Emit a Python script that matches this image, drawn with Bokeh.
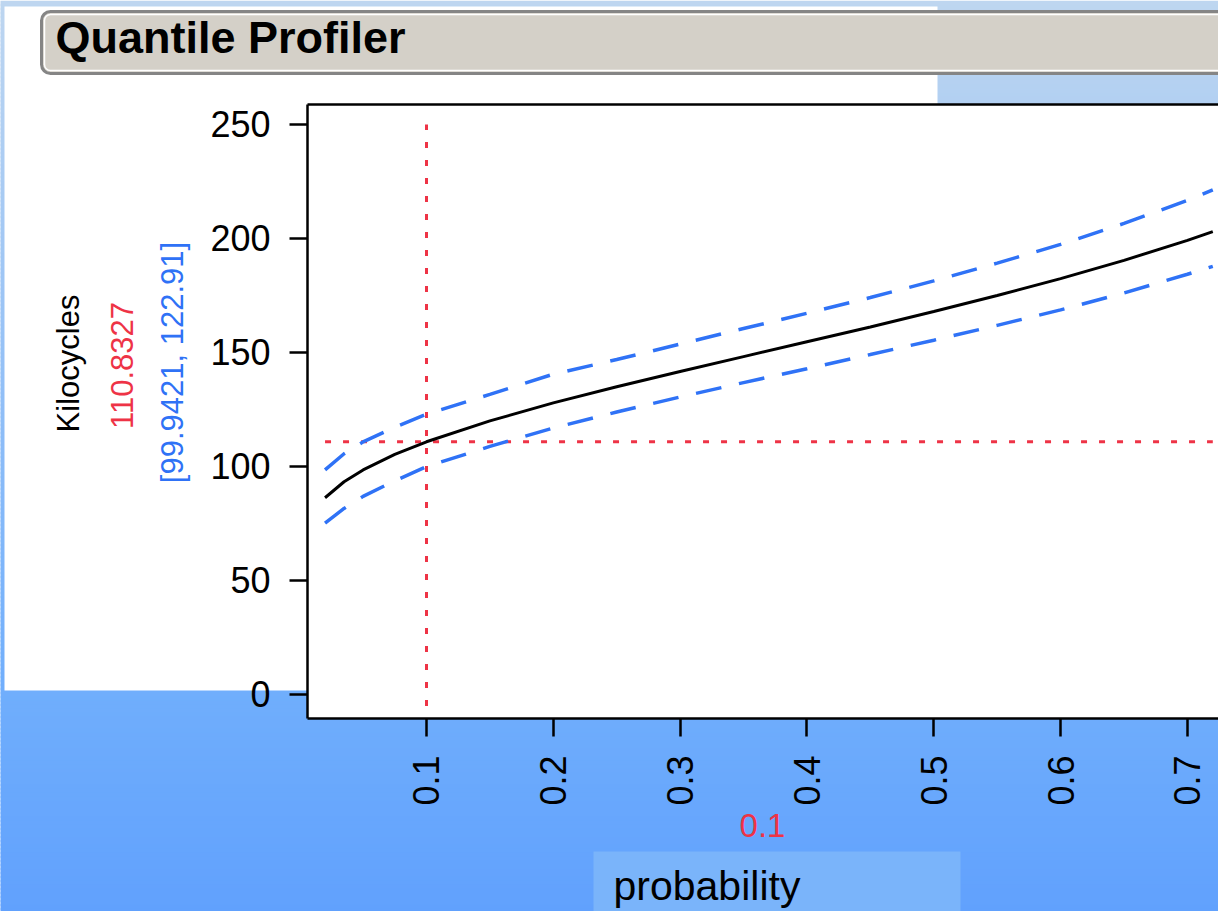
import math

from bokeh.embed import file_html
from bokeh.models import (BoxAnnotation, ColumnDataSource, FixedTicker, Label,
                          LinearAxis, Range1d)
from bokeh.plotting import figure
from bokeh.resources import INLINE

# Quantile profile of Kilocycles against probability, with confidence band
probability = [0.02, 0.035, 0.05, 0.075, 0.1, 0.15, 0.2, 0.25, 0.3, 0.35,
               0.4, 0.45, 0.5, 0.55, 0.6, 0.65, 0.7, 0.72]
kilocycles = [86.3, 93.3, 98.5, 105.3, 110.8327, 120.0, 127.9, 135.0, 141.7,
              148.2, 154.7, 161.2, 168.0, 175.0, 182.4, 190.4, 199.2, 203.0]
upper = [98.5, 105.6, 110.8, 117.2, 122.91, 131.6, 140.5, 146.9, 153.7,
         160.5, 167.2, 174.1, 181.4, 189.2, 197.4, 206.6, 216.7, 221.3]
lower = [75.2, 81.6, 86.9, 93.7, 99.9421, 108.8, 116.9, 123.9, 130.5, 136.8,
         142.9, 149.1, 155.4, 161.9, 168.7, 176.1, 184.3, 187.8]

# current setting of the profiler crosshair
current_p = 0.1
current_q = 110.8327
ci_low, ci_high = 99.9421, 122.91
crosshair_y_span = (-5, 250)

y_ticks = [0, 50, 100, 150, 200, 250]
x_ticks = [0.1, 0.2, 0.3, 0.4, 0.5, 0.6, 0.7]

BLUE = "#2f72f6"
RED = "#ee3346"
FONT = "Liberation Sans"

W, H = 1218, 911
FRAME_L, FRAME_T, FRAME_B = 307, 104, 718

# ---------------------------------------------------------------------------
# backdrop: page background, report panel, outline title bar and text labels
# (pixel coordinates, y growing downwards)
back = figure(width=W, height=H, x_range=Range1d(0, W), y_range=Range1d(H, 0),
              output_backend="svg", toolbar_location=None,
              x_axis_location=None, y_axis_location=None,
              min_border=0, min_border_left=0, min_border_right=0,
              min_border_top=0, min_border_bottom=0,
              outline_line_color=None,
              background_fill_color="white", border_fill_color="white")
back.grid.visible = False


def mix(c0, c1, t):
    return "#%02x%02x%02x" % tuple(round(a + (b - a) * t) for a, b in zip(c0, c1))


stops = [(0, (190, 214, 240)), (690, (112, 174, 252)), (H, (97, 161, 253))]
step = 4
band_top, band_bottom, band_color = [], [], []
for y0 in range(0, H, step):
    yc = y0 + step / 2
    for (ya, ca), (yb, cb) in zip(stops[:-1], stops[1:]):
        if ya <= yc <= yb:
            band_color.append(mix(ca, cb, (yc - ya) / (yb - ya)))
            break
    band_top.append(y0)
    band_bottom.append(y0 + step + 1)
back.quad(left=-10, right=W + 10, top=band_top, bottom=band_bottom,
          fill_color=band_color, line_color=None)


def box(left, right, top, bottom, fill, **kw):
    back.add_layout(BoxAnnotation(left=left, right=right, top=top,
                                  bottom=bottom, fill_color=fill,
                                  fill_alpha=1.0, line_alpha=1.0,
                                  line_color=kw.pop("line_color", None),
                                  **kw))


box(4, 937, 6, 690, "white")
box(41, W + 40, 11, 73, "#d4d0c8", line_color="#858585", line_width=3,
    border_radius=9)
box(44, W + 40, 14, 70, None, line_color="white", line_width=1.5,
    border_radius=6)
box(593, 960, 851, H + 30, "#7ab4fa")


def label(x, y, text, size, color="black", **kw):
    back.add_layout(Label(x=x, y=y, text=text, text_font=FONT,
                          text_font_size=size, text_color=color,
                          text_baseline="middle", **kw))


label(55, 37, "Quantile Profiler", "45px", text_font_style="bold",
      text_align="left")
label(68, 363, "Kilocycles", "31px", angle=math.pi / 2, text_align="center")
label(121, 365, f"{current_q}", "31px", RED, angle=math.pi / 2,
      text_align="center")
label(172, 362, f"[{ci_low}, {ci_high}]", "31px", BLUE, angle=math.pi / 2,
      text_align="center")
label(762, 825, f"{current_p}", "33px", RED, text_align="center")
label(613, 885, "probability", "41px", text_align="left")

# ---------------------------------------------------------------------------
# the profiler plot itself, laid over the backdrop
p = figure(width=W, height=H,
           x_range=Range1d(0.00617, 0.7245), y_range=Range1d(-10.53, 258.77),
           output_backend="svg", toolbar_location=None,
           x_axis_location=None, y_axis_location=None,
           min_border_left=FRAME_L, min_border_right=0,
           min_border_top=FRAME_T, min_border_bottom=H - FRAME_B,
           background_fill_color="white", border_fill_color=None,
           outline_line_color=None,
           styles={"position": "absolute", "left": "0px", "top": "0px"})
p.grid.visible = False

# crosshair at the current setting
p.line([current_p, current_p], list(crosshair_y_span), color=RED,
       line_width=3, line_dash="6 12")
p.line([probability[0], probability[-1]], [current_q, current_q], color=RED,
       line_width=3, line_dash="6 12")

src = ColumnDataSource(dict(p=probability, q=kilocycles, lo=lower, hi=upper))
p.line("p", "hi", source=src, color=BLUE, line_width=3.5, line_dash="26 18")
p.line("p", "lo", source=src, color=BLUE, line_width=3.5, line_dash="26 18")
p.line("p", "q", source=src, color="black", line_width=3)

axis_style = dict(axis_line_width=2.5, axis_line_color="black",
                  major_tick_line_width=2.5, major_tick_line_color="black",
                  major_tick_out=18, major_tick_in=0,
                  minor_tick_line_color=None, major_label_standoff=19,
                  major_label_text_font=FONT,
                  major_label_text_font_size="36px",
                  major_label_text_color="black")

yaxis = LinearAxis(ticker=FixedTicker(ticks=y_ticks), **axis_style)
p.add_layout(yaxis, "left")

xaxis = LinearAxis(ticker=FixedTicker(ticks=x_ticks),
                   major_label_orientation=math.pi / 2, **axis_style)
p.add_layout(xaxis, "below")

top_edge = LinearAxis(ticker=FixedTicker(ticks=[]), axis_line_width=2.5,
                      axis_line_color="black", major_tick_line_color=None,
                      minor_tick_line_color=None,
                      major_label_text_font_size="0px")
p.add_layout(top_edge, "above")

# two independent roots: the plot sits on top of the backdrop
open("out.html", "w").write(file_html([back, p], INLINE))
